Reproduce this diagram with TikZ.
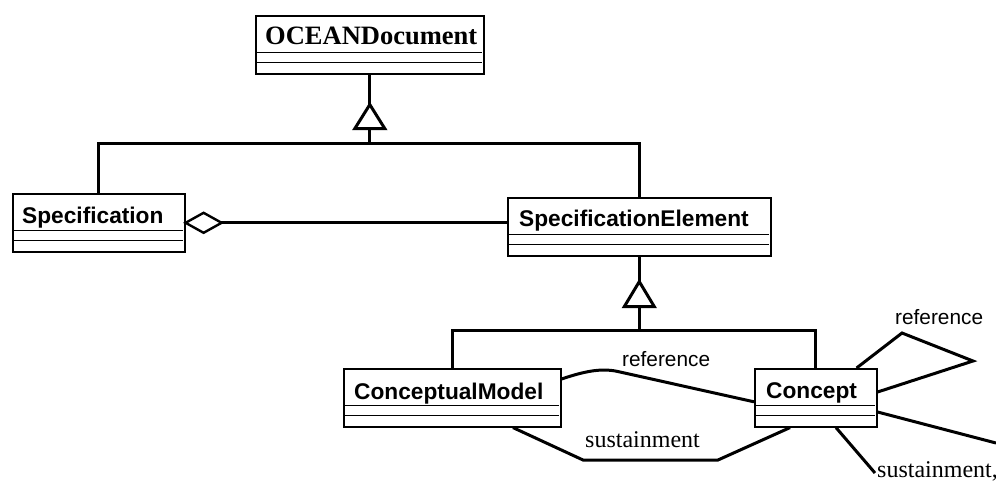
\documentclass[tikz,border=0pt]{standalone}
\usepackage{fontspec}
\setmainfont{Liberation Serif}
\setsansfont{Liberation Sans}
\usetikzlibrary{calc}
\tikzset{
  cls/.style={draw, line width=1.6pt, fill=white, rectangle, inner sep=0pt, anchor=north west},
  comp/.style={line width=1.6pt},
  sansname/.style={anchor=base west, inner sep=0pt, font=\sffamily\bfseries\fontsize{22.7}{26}\selectfont},
  serifname/.style={anchor=base west, inner sep=0pt, font=\bfseries\fontsize{26.5}{30}\selectfont},
  conn/.style={line width=3pt},
  gentri/.style={line width=3pt, fill=white, line join=miter},
  aggdia/.style={line width=2.4pt, fill=white, line join=miter},
  lblsans/.style={anchor=base west, inner sep=0pt, font=\sffamily\fontsize{20.8}{24}\selectfont},
  lblserif/.style={anchor=base west, inner sep=0pt, font=\fontsize{24}{28}\selectfont},
}
\newcommand{\compartments}[2]{%
  \draw[comp] ($(#1.north west)+(0,37.5)$) -- ($(#1.north east)+(-3,37.5)$);
  \draw[comp] ($(#1.north west)+(0,47.5)$) -- ($(#1.north east)+(-3,47.5)$);
}
\begin{document}
\begin{tikzpicture}[x=1pt,y=-1pt]
\useasboundingbox (0,0) rectangle (996,481);

% classes
\node[cls, minimum width=228pt, minimum height=58pt] (ocean) at (255,15) {};
\node[cls, minimum width=172pt, minimum height=58pt] (spec) at (12,193) {};
\node[cls, minimum width=263pt, minimum height=58pt] (specel) at (507,197) {};
\node[cls, minimum width=217pt, minimum height=58pt] (cm) at (343,368) {};
\node[cls, minimum width=122pt, minimum height=58pt] (concept) at (754,368) {};

\compartments{ocean}{}
\compartments{spec}{}
\compartments{specel}{}
\compartments{cm}{}
\compartments{concept}{}

\node[serifname] (ocean-t) at (265,45) {OCEANDocument};
\node[sansname] (spec-t) at (22,224) {Specification};
\node[sansname] (specel-t) at (519,226) {SpecificationElement};
\node[sansname] (cm-t) at (354,399) {ConceptualModel};
\node[sansname] (concept-t) at (766,398) {Concept};

% generalization 1
\coordinate (t1apex) at ($(ocean.south)+(0,30)$);
\coordinate (t1base) at ($(ocean.south)+(0,54)$);
\coordinate (j1) at ($(ocean.south)+(0,69)$);
\draw[conn] (ocean.south) -- (t1apex);
\draw[conn] (t1base) -- (j1);
\draw[conn] (spec.north) |- (j1);
\draw[conn] (specel.north) |- (j1);
\draw[gentri] (t1apex) -- ($(t1base)+(-15,0)$) -- ($(t1base)+(15,0)$) -- cycle;

% generalization 2
\coordinate (t2apex) at ($(specel.south)+(0,25)$);
\coordinate (t2base) at ($(specel.south)+(0,50)$);
\coordinate (j2) at ($(specel.south)+(0,74)$);
\draw[conn] (specel.south) -- (t2apex);
\draw[conn] (t2base) -- (j2);
\draw[conn] (cm.north) |- (j2);
\draw[conn] (concept.north) |- (j2);
\draw[gentri] (t2apex) -- ($(t2base)+(-15,0)$) -- ($(t2base)+(15,0)$) -- cycle;

% aggregation
\draw[conn] (spec.east) -- (spec.east -| specel.west);
\draw[aggdia] (spec.east) -- ++(18,-10) -- ++(18,10) -- ++(-18,10) -- cycle;

% reference ConceptualModel - Concept
\coordinate (r1) at (620,372);
\draw[conn] ($(cm.north east)+(0,11)$) .. controls (588,370) and (604,368) .. (r1) -- ($(concept.west)+(0,4)$);
\node[lblsans] (ref1) at (622,366) {reference};

% sustainment ConceptualModel - Concept
\coordinate (s1) at (583,460);
\coordinate (s2) at (718,460);
\draw[conn] ($(cm.south west)+(170,0)$) -- (s1) -- (s2) -- ($(concept.south west)+(36,0)$);
\node[lblserif] (sus1) at (585,447) {sustainment};

% self reference of Concept
\coordinate (l1) at (902,333);
\coordinate (l2) at (973,361);
\draw[conn, line join=miter] ($(concept.north east)+(-21,0)$) -- (l1) -- (l2) -- ($(concept.north east)+(0,24)$);
\node[lblsans] (ref2) at (895,324) {reference};

% lines leaving the picture
\coordinate (o1) at (996,443);
\coordinate (o2) at (875,473);
\draw[conn] ($(concept.north east)+(0,44)$) -- (o1);
\draw[conn] ($(concept.south west)+(82,0)$) -- (o2);
\node[lblserif] (sus2) at (877,477) {sustainment,};
\end{tikzpicture}
\end{document}
